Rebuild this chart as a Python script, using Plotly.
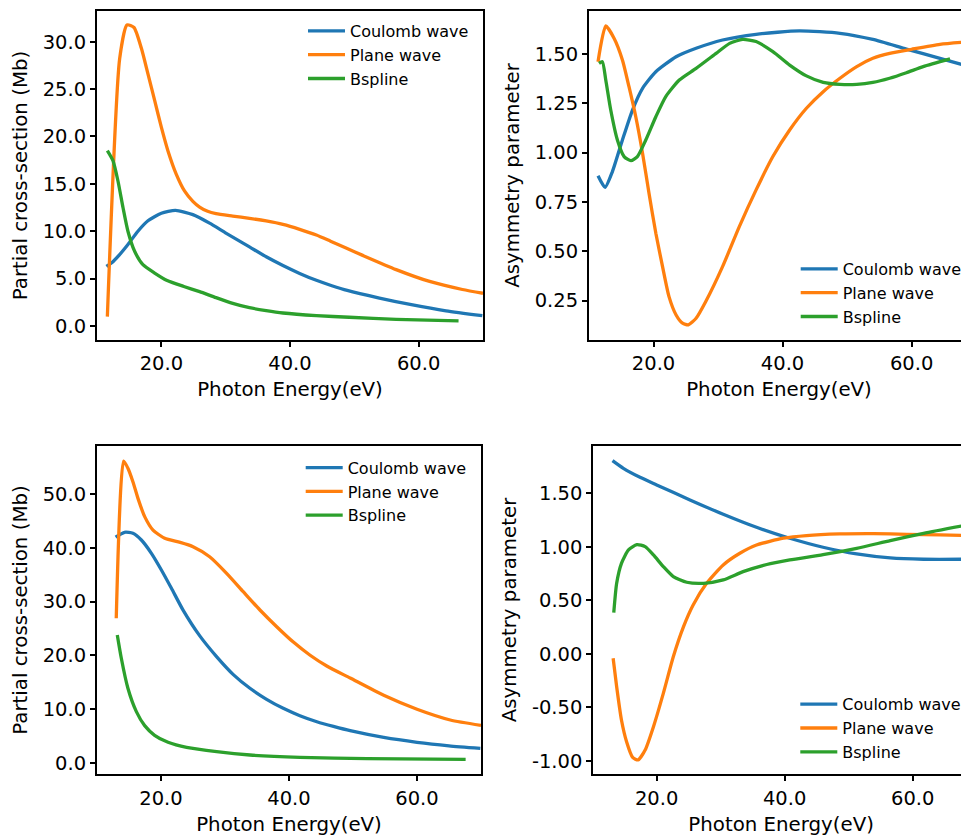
import plotly.graph_objects as go

# ---------------- data ----------------
# Top-left: partial cross-section (Mb)
tl_coul_E = [11.46, 12.24, 13.52, 14.81, 16.36, 17.92, 20.0, 22.2, 24.9, 27.5, 30.1, 33.7, 36.3, 38.9, 41.5, 44.1, 46.5, 48.9, 53.9, 59.07, 64.25, 69.9]
tl_coul_V = [6.29, 6.65, 7.54, 8.6, 10.0, 11.1, 11.9, 12.2, 11.75, 10.85, 9.78, 8.35, 7.3, 6.38, 5.55, 4.82, 4.25, 3.75, 2.95, 2.22, 1.6, 1.09]
tl_plane_E = [11.61, 13.52, 14.66, 15.75, 16.9, 17.92, 18.96, 20.0, 21.02, 22.33, 23.6, 24.9, 25.95, 27.2, 28.5, 31.1, 33.7, 36.3, 38.9, 41.5, 44.1, 46.3, 48.8, 51.3, 56.5, 61.7, 66.8, 70.0]
tl_plane_V = [0.99, 28.2, 31.77, 31.5, 29.3, 26.6, 23.8, 20.98, 18.5, 16.0, 14.25, 13.15, 12.55, 12.1, 11.85, 11.6, 11.36, 11.08, 10.72, 10.2, 9.6, 8.95, 8.2, 7.45, 5.95, 4.7, 3.85, 3.45]
tl_bspl_E = [11.61, 12.48, 13.26, 14.04, 14.81, 15.85, 17.14, 18.96, 20.9, 23.5, 25.95, 28.5, 31.1, 33.7, 36.3, 38.9, 44.1, 49.2, 56.5, 66.2]
tl_bspl_V = [18.5, 17.44, 15.3, 12.5, 10.0, 7.88, 6.47, 5.59, 4.8, 4.17, 3.62, 2.99, 2.39, 1.93, 1.62, 1.37, 1.09, 0.92, 0.7, 0.53]

# Top-right: asymmetry parameter
tr_coul_E = [11.4, 12.49, 13.63, 15.18, 16.74, 18.3, 20.36, 23.5, 26.6, 30.7, 35.9, 42.6, 48.9, 54.0, 59.2, 64.4, 68.9]
tr_coul_V = [0.883, 0.824, 0.904, 1.064, 1.216, 1.326, 1.41, 1.486, 1.529, 1.571, 1.6, 1.617, 1.605, 1.574, 1.525, 1.478, 1.436]
tr_plane_E = [11.4, 12.6, 13.9, 15.18, 16.2, 17.25, 18.3, 19.3, 20.36, 21.4, 22.4, 23.5, 24.5, 25.4, 26.6, 28.1, 30.7, 33.3, 35.9, 38.5, 41.1, 43.7, 46.3, 48.9, 51.5, 54.0, 56.6, 60.0, 64.4, 68.9]
tr_plane_V = [1.461, 1.642, 1.579, 1.47, 1.334, 1.182, 0.997, 0.794, 0.591, 0.422, 0.27, 0.177, 0.135, 0.127, 0.16, 0.245, 0.422, 0.625, 0.811, 0.98, 1.115, 1.225, 1.309, 1.377, 1.436, 1.478, 1.503, 1.524, 1.549, 1.562]
tr_bspl_E = [11.55, 12.07, 12.6, 13.37, 14.4, 15.44, 16.5, 17.5, 18.8, 20.36, 21.9, 24.0, 26.6, 29.7, 31.8, 33.8, 35.9, 38.5, 41.1, 43.7, 46.3, 48.9, 51.5, 54.0, 56.6, 59.2, 61.8, 65.96]
tr_bspl_V = [1.453, 1.461, 1.368, 1.216, 1.064, 0.98, 0.959, 0.98, 1.064, 1.182, 1.284, 1.368, 1.427, 1.503, 1.554, 1.574, 1.563, 1.512, 1.444, 1.389, 1.356, 1.346, 1.346, 1.356, 1.377, 1.405, 1.436, 1.475]

# Bottom-left: partial cross-section (Mb)
bl_coul_E = [12.9, 14.31, 15.61, 16.93, 18.5, 20.06, 21.63, 23.45, 26.06, 28.68, 31.3, 33.9, 36.5, 39.1, 41.7, 44.35, 46.95, 49.56, 54.8, 60.0, 65.0, 69.9]
bl_coul_V = [42.0, 42.88, 42.7, 41.45, 38.97, 35.87, 32.46, 28.4, 23.6, 19.75, 16.4, 13.85, 11.8, 10.12, 8.75, 7.63, 6.75, 5.95, 4.7, 3.8, 3.15, 2.67]
bl_plane_E = [13.01, 14.16, 14.83, 15.61, 16.4, 17.45, 18.75, 20.58, 23.0, 25.0, 27.6, 30.25, 32.85, 35.46, 38.08, 40.68, 43.3, 45.9, 49.56, 54.8, 60.0, 65.2, 70.0]
bl_plane_V = [26.9, 56.15, 54.8, 52.3, 49.2, 45.8, 43.3, 41.76, 41.0, 40.2, 38.34, 35.25, 31.83, 28.42, 25.31, 22.45, 20.0, 18.0, 15.75, 12.55, 9.95, 7.95, 6.95]
bl_bspl_E = [13.17, 13.8, 14.83, 16.15, 17.45, 19.0, 21.1, 24.0, 28.7, 33.9, 41.7, 52.2, 67.6]
bl_bspl_V = [23.77, 19.43, 13.85, 9.5, 6.9, 5.1, 3.8, 2.85, 2.05, 1.43, 0.99, 0.74, 0.62]

# Bottom-right: asymmetry parameter
br_coul_E = [13.1, 14.8, 17.4, 20.0, 25.2, 30.4, 35.6, 40.8, 46.0, 51.25, 56.5, 61.7, 68.8]
br_coul_V = [1.805, 1.733, 1.649, 1.578, 1.438, 1.304, 1.182, 1.08, 0.996, 0.933, 0.896, 0.884, 0.884]
br_plane_E = [13.2, 13.75, 14.5, 15.3, 16.25, 17.1, 18.2, 19.5, 21.04, 22.6, 24.2, 25.7, 27.8, 30.4, 33.0, 35.6, 39.8, 43.4, 48.6, 53.9, 59.1, 64.3, 68.8]
br_plane_V = [-0.041, -0.306, -0.617, -0.82, -0.966, -0.99, -0.897, -0.679, -0.368, -0.026, 0.255, 0.457, 0.659, 0.831, 0.94, 1.017, 1.08, 1.105, 1.12, 1.123, 1.117, 1.111, 1.105]
br_bspl_E = [13.3, 13.75, 14.5, 15.6, 16.9, 18.2, 19.5, 21.04, 22.6, 24.7, 27.3, 30.4, 33.5, 37.2, 40.8, 46.0, 51.25, 56.5, 61.7, 67.7]
br_bspl_V = [0.385, 0.659, 0.846, 0.971, 1.02, 1.002, 0.924, 0.815, 0.722, 0.669, 0.659, 0.691, 0.768, 0.835, 0.877, 0.926, 0.986, 1.058, 1.126, 1.195]

series_names = ["Coulomb wave", "Plane wave", "Bspline"]
x_tick_vals = [20, 40, 60]
x_tick_text = ["20.0", "40.0", "60.0"]
tl_y_vals = [0, 5, 10, 15, 20, 25, 30]
tl_y_text = ["0.0", "5.0", "10.0", "15.0", "20.0", "25.0", "30.0"]
tr_y_vals = [0.25, 0.5, 0.75, 1.0, 1.25, 1.5]
tr_y_text = ["0.25", "0.50", "0.75", "1.00", "1.25", "1.50"]
bl_y_vals = [0, 10, 20, 30, 40, 50]
bl_y_text = ["0.0", "10.0", "20.0", "30.0", "40.0", "50.0"]
br_y_vals = [-1.0, -0.5, 0.0, 0.5, 1.0, 1.5]
br_y_text = ["-1.00", "-0.50", "0.00", "0.50", "1.00", "1.50"]

# ---------------- figure ----------------
# the page body has an 8px margin, so the figure is drawn 8px smaller and
# every reference pixel position p maps to p - 8 inside the figure
OFF = 8
W, H = 969 - OFF, 837 - OFF
colors = ["#1f77b4", "#ff7f0e", "#2ca02c"]
FONT = "DejaVu Sans"

fig = go.Figure()

panels = [
    ("x", "y", "legend", [(tl_coul_E, tl_coul_V), (tl_plane_E, tl_plane_V), (tl_bspl_E, tl_bspl_V)]),
    ("x2", "y2", "legend2", [(tr_coul_E, tr_coul_V), (tr_plane_E, tr_plane_V), (tr_bspl_E, tr_bspl_V)]),
    ("x3", "y3", "legend3", [(bl_coul_E, bl_coul_V), (bl_plane_E, bl_plane_V), (bl_bspl_E, bl_bspl_V)]),
    ("x4", "y4", "legend4", [(br_coul_E, br_coul_V), (br_plane_E, br_plane_V), (br_bspl_E, br_bspl_V)]),
]
for xa, ya, lg, data in panels:
    for (ex, vy), name, c in zip(data, series_names, colors):
        fig.add_trace(go.Scatter(
            x=ex, y=vy, mode="lines", name=name, xaxis=xa, yaxis=ya, legend=lg,
            line=dict(color=c, width=3.3, shape="spline", smoothing=0.6),
        ))

def px_x(p):
    return (p - OFF) / W

def px_y(p):
    return 1 - (p - OFF) / H

axis_common = dict(
    showline=True, linecolor="black", linewidth=2, showgrid=False, zeroline=False,
    ticks="outside", ticklen=5, tickwidth=1.6, tickcolor="black",
    tickfont=dict(family=FONT, size=19.5, color="black"),
    title_font=dict(family=FONT, size=19.8, color="black"),
    automargin=False,
)

top_dom = [px_y(340), px_y(11)]
bot_dom = [px_y(774.3), px_y(445.7)]

fig.update_layout(
    width=W, height=H,
    margin=dict(l=0, r=0, t=0, b=0),
    paper_bgcolor="white", plot_bgcolor="white",
    font=dict(family=FONT, color="black"),
    xaxis=dict(axis_common, domain=[px_x(97), px_x(483)], range=[10, 70], anchor="y",
               tickvals=x_tick_vals, ticktext=x_tick_text, mirror=True,
               title=dict(text="Photon Energy(eV)", standoff=8)),
    yaxis=dict(axis_common, domain=top_dom, range=[-1.48, 33.24], anchor="x",
               tickvals=tl_y_vals, ticktext=tl_y_text, mirror=True,
               title=dict(text="Partial cross-section (Mb)", standoff=10)),
    xaxis2=dict(axis_common, domain=[px_x(589), 1.0], range=[10, 68.9], anchor="y2",
                tickvals=x_tick_vals, ticktext=x_tick_text, mirror=True,
                title=dict(text="Photon Energy(eV)", standoff=8)),
    yaxis2=dict(axis_common, domain=top_dom, range=[0.05, 1.718], anchor="x2",
                tickvals=tr_y_vals, ticktext=tr_y_text, mirror=False,
                title=dict(text="Asymmetry parameter", standoff=10)),
    xaxis3=dict(axis_common, domain=[px_x(97), px_x(481)], range=[10, 70], anchor="y3",
                tickvals=x_tick_vals, ticktext=x_tick_text, mirror=True,
                title=dict(text="Photon Energy(eV)", standoff=8)),
    yaxis3=dict(axis_common, domain=bot_dom, range=[-2.16, 59.0], anchor="x3",
                tickvals=bl_y_vals, ticktext=bl_y_text, mirror=True,
                title=dict(text="Partial cross-section (Mb)", standoff=10)),
    xaxis4=dict(axis_common, domain=[px_x(593.3), 1.0], range=[10.1, 68.8], anchor="y4",
                tickvals=x_tick_vals, ticktext=x_tick_text, mirror=True,
                title=dict(text="Photon Energy(eV)", standoff=8)),
    yaxis4=dict(axis_common, domain=bot_dom, range=[-1.124, 1.944], anchor="x4",
                tickvals=br_y_vals, ticktext=br_y_text, mirror=False,
                title=dict(text="Asymmetry parameter", standoff=10)),
)

legend_common = dict(xanchor="left", yanchor="top", bgcolor="rgba(0,0,0,0)",
                     borderwidth=0, itemwidth=37,
                     font=dict(family=FONT, size=16, color="black"))
fig.update_layout(
    legend=dict(legend_common, x=px_x(303), y=px_y(14)),
    legend2=dict(legend_common, x=px_x(795.7), y=px_y(252)),
    legend3=dict(legend_common, x=px_x(300.7), y=px_y(450.7)),
    legend4=dict(legend_common, x=px_x(795.3), y=px_y(687.3)),
)

fig.write_html("out.html")
